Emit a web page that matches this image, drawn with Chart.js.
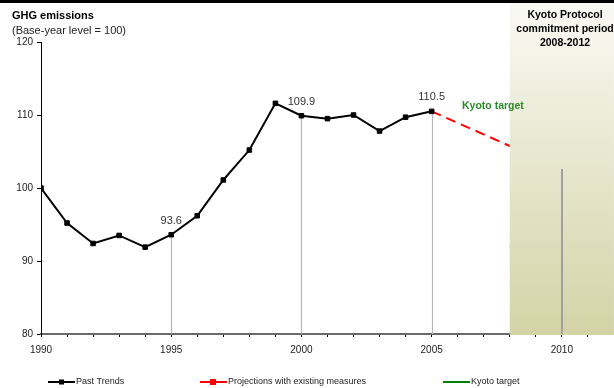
<!DOCTYPE html>
<html>
<head>
<meta charset="utf-8">
<script src="https://cdn.jsdelivr.net/npm/chart.js@4.4.1/dist/chart.umd.min.js"></script>
<style>
  html, body { margin: 0; padding: 0; background: #fff; }
  canvas { display: block; }
</style>
</head>
<body>
<canvas id="ghgChart" width="614" height="388"></canvas>
<script>
const FONT = '"Liberation Sans", Arial, sans-serif';

// GHG emissions index, base year = 100
const years = [1990, 1991, 1992, 1993, 1994, 1995, 1996, 1997, 1998, 1999, 2000, 2001, 2002, 2003, 2004, 2005];
const pastTrends = [100, 95.2, 92.4, 93.5, 91.9, 93.6, 96.2, 101.1, 105.2, 111.6, 109.9, 109.5, 110.0, 107.8, 109.7, 110.5];

const projYears = [2005, 2010];
const projections = [110.5, 102.6];

const targetYears = [2008, 2012];
const kyotoTarget = [92, 92];

const labelledYears = [1995, 2000, 2005];
const commitmentPeriod = [2008, 2012];

const tickYears = [];
for (let yr = 1990; yr <= 2011; yr++) tickYears.push(yr);
const xTickLabels = [1990, 1995, 2000, 2005, 2010];
const yTicks = [80, 90, 100, 110, 120];

const toPoints = (xs, ys) => xs.map((x, i) => ({ x, y: ys[i] }));

const overlay = {
  id: 'overlay',
  beforeDatasetsDraw(chart) {
    const { ctx, scales: { x, y } } = chart;
    ctx.save();
    ctx.strokeStyle = '#b8b8b8';
    ctx.lineWidth = 1.2;
    labelledYears.forEach(yr => {
      const v = pastTrends[years.indexOf(yr)];
      const px = Math.round(x.getPixelForValue(yr)) + 0.5;
      ctx.beginPath();
      ctx.moveTo(px, y.getPixelForValue(v));
      ctx.lineTo(px, y.bottom);
      ctx.stroke();
    });
    ctx.restore();
  },
  afterDatasetsDraw(chart) {
    const { ctx, scales: { x, y } } = chart;
    ctx.save();

    // commitment period band
    const x0 = x.getPixelForValue(commitmentPeriod[0]);
    const x1 = x.getPixelForValue(commitmentPeriod[1]);
    const grad = ctx.createLinearGradient(0, 3, 0, y.bottom);
    grad.addColorStop(0, '#f9f9f4');
    grad.addColorStop(1, '#d4d3a6');
    ctx.fillStyle = grad;
    ctx.fillRect(x0, 3, x1 - x0, y.bottom + 1 - 3);

    // drop line for the 2010 projection
    const p2010 = projections[projYears.indexOf(2010)];
    const px = Math.round(x.getPixelForValue(2010));
    ctx.strokeStyle = '#a0a0a0';
    ctx.lineWidth = 2;
    ctx.beginPath();
    ctx.moveTo(px, y.getPixelForValue(p2010));
    ctx.lineTo(px, y.bottom);
    ctx.stroke();

    // period heading
    ctx.fillStyle = '#000';
    ctx.font = 'bold 10.5px ' + FONT;
    ctx.textAlign = 'center';
    ctx.textBaseline = 'middle';
    ['Kyoto Protocol', 'commitment period', '2008-2012'].forEach((t, i) => {
      ctx.fillText(t, 565, 15 + i * 14);
    });

    ctx.fillStyle = '#2a8c2a';
    ctx.textAlign = 'left';
    ctx.fillText('Kyoto target', 462, 106);

    // value labels
    ctx.fillStyle = '#333';
    ctx.font = '11px ' + FONT;
    ctx.textAlign = 'center';
    labelledYears.forEach(yr => {
      const v = pastTrends[years.indexOf(yr)];
      ctx.fillText(v.toFixed(1), x.getPixelForValue(yr), y.getPixelForValue(v) - 14);
    });
    ctx.restore();
  },
  afterDraw(chart) {
    const { ctx } = chart;
    ctx.save();
    ctx.fillStyle = '#000';
    ctx.fillRect(0, 0, chart.width, 3);

    ctx.textBaseline = 'middle';
    ctx.textAlign = 'left';
    ctx.font = 'bold 11px ' + FONT;
    ctx.fillText('GHG emissions', 12, 16);
    ctx.font = '11px ' + FONT;
    ctx.fillStyle = '#222';
    ctx.fillText('(Base-year level = 100)', 12, 31);

    // legend
    const legendX = [48, 200, 443];
    const ly = 382;
    ctx.font = '9px ' + FONT;
    chart.data.datasets.forEach((ds, i) => {
      const lx = legendX[i];
      ctx.strokeStyle = ds.borderColor;
      ctx.lineWidth = 2;
      ctx.beginPath();
      ctx.moveTo(lx, ly);
      ctx.lineTo(lx + 27, ly);
      ctx.stroke();
      if (i === 0) {
        ctx.fillStyle = ds.borderColor;
        ctx.fillRect(lx + 11, ly - 2.5, 5, 5);
      } else if (i === 1) {
        ctx.fillStyle = ds.borderColor;
        ctx.fillRect(lx + 10, ly - 3, 6, 6);
      }
      ctx.fillStyle = '#222';
      ctx.fillText(ds.label, lx + 28, ly);
    });
    ctx.restore();
  }
};

new Chart(document.getElementById('ghgChart'), {
  type: 'line',
  data: {
    datasets: [
      {
        label: 'Past Trends',
        data: toPoints(years, pastTrends),
        borderColor: '#000',
        backgroundColor: '#000',
        borderWidth: 2,
        pointStyle: 'rect',
        pointRadius: 3.2,
        pointBorderWidth: 1,
        tension: 0
      },
      {
        label: 'Projections with existing measures',
        data: toPoints(projYears, projections),
        borderColor: '#ff0000',
        backgroundColor: '#ff0000',
        borderWidth: 2,
        borderDash: [10, 6],
        pointRadius: 0
      },
      {
        label: 'Kyoto target',
        data: toPoints(targetYears, kyotoTarget),
        borderColor: '#008000',
        backgroundColor: '#008000',
        borderWidth: 2,
        pointRadius: 0
      }
    ]
  },
  options: {
    responsive: false,
    animation: false,
    devicePixelRatio: 1,
    layout: { padding: { top: 42, left: 0, right: 0, bottom: 0 } },
    plugins: {
      legend: { display: false },
      tooltip: { enabled: false }
    },
    scales: {
      x: {
        type: 'linear',
        min: 1990,
        max: 2011.81,
        afterBuildTicks: s => { s.ticks = tickYears.map(v => ({ value: v })); },
        afterFit: s => { s.height = 54; },
        ticks: {
          autoSkip: false,
          maxRotation: 0,
          padding: 7,
          color: '#222',
          font: { family: FONT, size: 10 },
          callback: v => xTickLabels.includes(v) ? String(v) : ''
        },
        grid: { drawOnChartArea: false, tickLength: 3, color: '#000' },
        border: { color: '#6a6a6a', width: 2 }
      },
      y: {
        min: 80,
        max: 120,
        afterBuildTicks: s => { s.ticks = yTicks.map(v => ({ value: v })); },
        afterFit: s => { s.width = 41; },
        ticks: {
          padding: 4,
          color: '#222',
          font: { family: FONT, size: 10 }
        },
        grid: { drawOnChartArea: false, tickLength: 4, color: '#000' },
        border: { color: '#000', width: 1 }
      }
    }
  },
  plugins: [overlay]
});
</script>
</body>
</html>
